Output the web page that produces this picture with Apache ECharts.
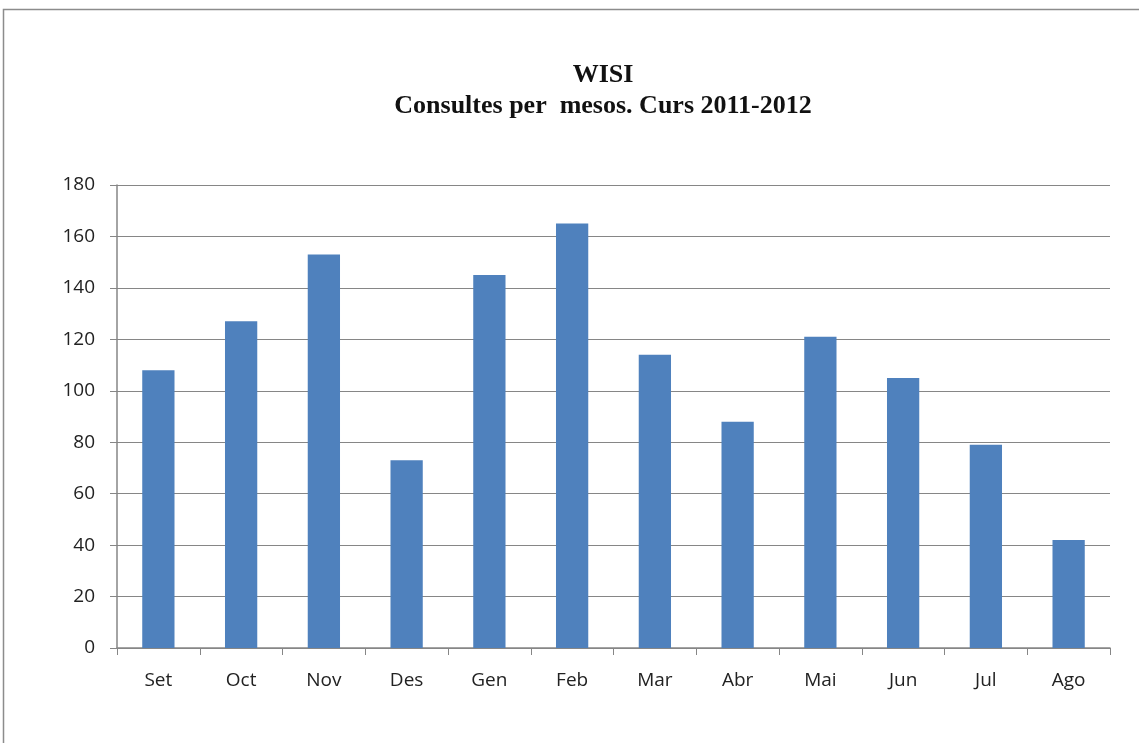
<!DOCTYPE html>
<html><head><meta charset="utf-8">
<script src="https://cdn.jsdelivr.net/npm/echarts@6/dist/echarts.min.js"></script>
<style>html,body{margin:0;padding:0;background:#fff}#c{width:1139px;height:743px}</style>
</head><body><div id="c"></div>
<script>
const categories = ['Set','Oct','Nov','Des','Gen','Feb','Mar','Abr','Mai','Jun','Jul','Ago'];
const values = [108,127,153,73,145,165,114,88,121,105,79,42];
const titleLines = ['WISI','Consultes per  mesos. Curs 2011-2012'];

const chart = echarts.init(document.getElementById('c'), null, {renderer:'canvas'});
const titleFont = {fontFamily:'Liberation Serif',fontWeight:'bold',fontSize:26,fill:'#111',align:'center',verticalAlign:'middle'};
chart.setOption({
  animation:false,
  backgroundColor:'#fff',
  graphic:[
    {type:'rect',shape:{x:3.5,y:9.5,width:1140,height:740},style:{fill:'none',stroke:'#8c8c8c',lineWidth:1.5}},
    {type:'text',x:603,y:75,style:Object.assign({text:titleLines[0]},titleFont)},
    {type:'text',x:603,y:106,style:Object.assign({text:titleLines[1]},titleFont)}
  ],
  grid:{left:117,right:29,top:185,bottom:95,containLabel:false},
  xAxis:{
    type:'category', data:categories,
    axisLine:{lineStyle:{color:'#868686',width:1.5}},
    axisTick:{show:true,length:7,lineStyle:{color:'#868686'}},
    axisLabel:{fontFamily:'Open Sans',fontSize:19,color:'#222',margin:23}
  },
  yAxis:{
    type:'value', min:0, max:180, interval:20,
    axisLine:{show:true,lineStyle:{color:'#868686',width:1.5}},
    axisTick:{show:true,length:7,lineStyle:{color:'#868686'}},
    splitLine:{lineStyle:{color:'#868686',width:1.2}},
    axisLabel:{fontFamily:'Open Sans',fontSize:19,color:'#222',margin:22}
  },
  series:[{type:'bar',data:values,barWidth:'39%',itemStyle:{color:'#4F81BD'}}]
});
</script></body></html>
